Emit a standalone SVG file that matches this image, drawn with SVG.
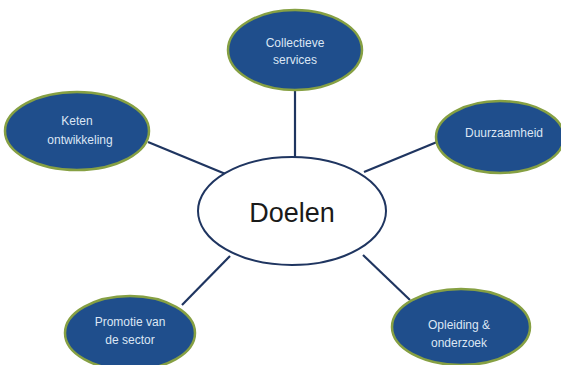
<svg xmlns="http://www.w3.org/2000/svg" width="561" height="365" viewBox="0 0 561 365">
<style>
.n{fill:#1f4e8c;stroke:#86a043;stroke-width:2.5}
.t{font-family:"Liberation Sans",Arial,sans-serif;font-size:12px;fill:#dce6f4;text-anchor:middle}
.c{stroke:#1f3560;stroke-width:2.2;fill:none}
</style>
<rect width="561" height="365" fill="#fff"/>
<g id="connectors">
<line class="c" x1="295" y1="90" x2="295" y2="157"/>
<line class="c" x1="148" y1="142" x2="228" y2="175"/>
<line class="c" x1="437" y1="142" x2="364" y2="172"/>
<line class="c" x1="182" y1="305" x2="230" y2="256"/>
<line class="c" x1="363" y1="255" x2="410" y2="300"/>
</g>
<g id="doelen">
<ellipse cx="292" cy="211" rx="94" ry="54" fill="#fff" stroke="#1f3560" stroke-width="2"/>
<text x="292" y="222" font-family="Liberation Sans,Arial,sans-serif" font-size="27" fill="#1a1a1a" text-anchor="middle">Doelen</text>
</g>
<g id="collectieve">
<ellipse class="n" cx="295" cy="50" rx="67" ry="40"/>
<text class="t" x="295" y="47">Collectieve</text>
<text class="t" x="295" y="64">services</text>
</g>
<g id="keten">
<ellipse class="n" cx="77" cy="131" rx="72" ry="39"/>
<text class="t" x="77" y="125">Keten</text>
<text class="t" x="80" y="144">ontwikkeling</text>
</g>
<g id="duurzaamheid">
<ellipse class="n" cx="500" cy="137" rx="64" ry="36"/>
<text class="t" x="504" y="137">Duurzaamheid</text>
</g>
<g id="promotie">
<ellipse class="n" cx="130" cy="333" rx="65" ry="37"/>
<text class="t" x="130" y="326">Promotie van</text>
<text class="t" x="130" y="344">de sector</text>
</g>
<g id="opleiding">
<ellipse class="n" cx="461" cy="327" rx="69" ry="38"/>
<text class="t" x="459" y="329">Opleiding &amp;</text>
<text class="t" x="459" y="347">onderzoek</text>
</g>
</svg>
